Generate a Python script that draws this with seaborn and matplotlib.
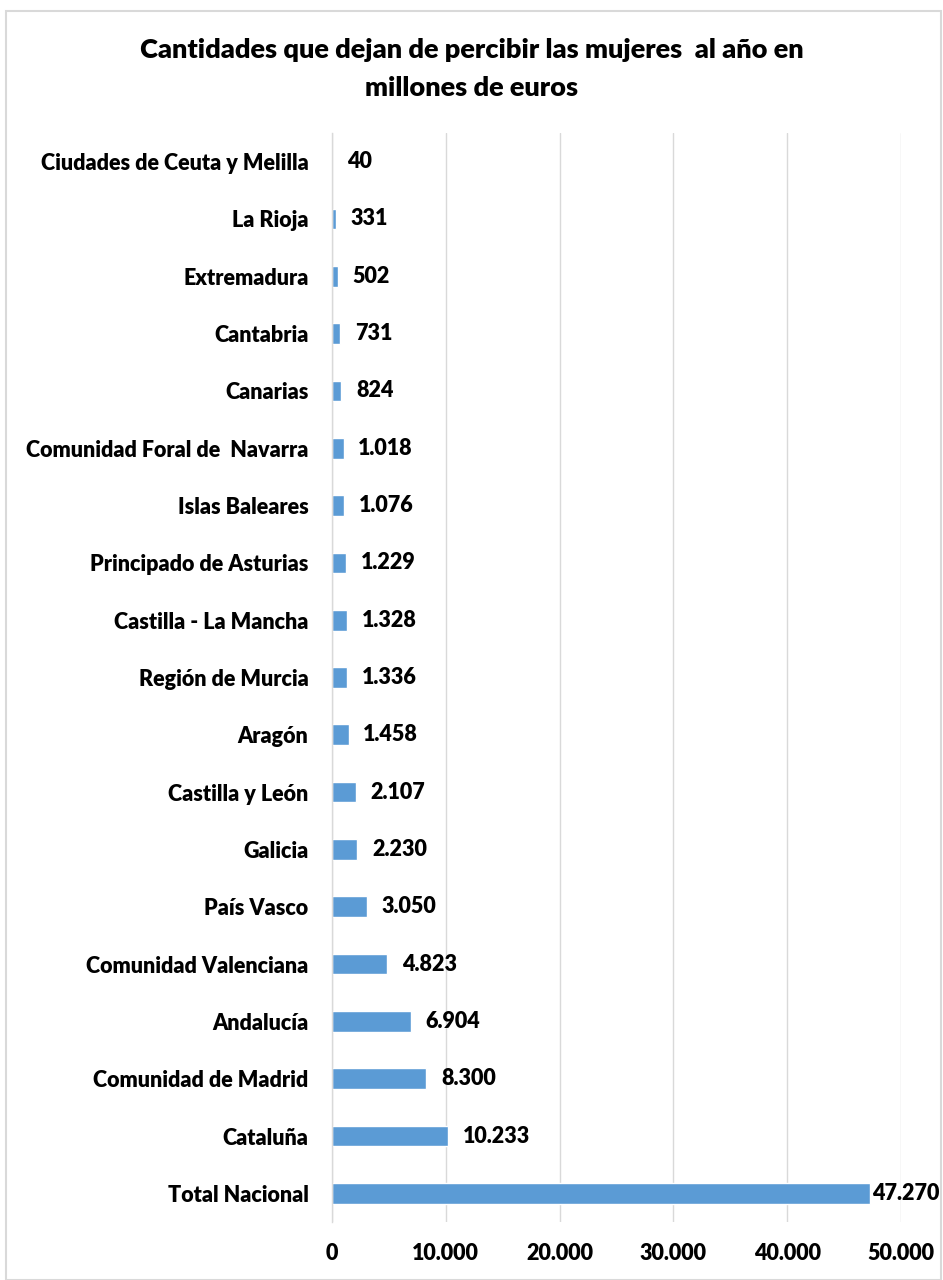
import matplotlib
matplotlib.use("Agg")
import matplotlib.pyplot as plt
import seaborn as sns
import pandas as pd
from matplotlib.patches import Rectangle
from matplotlib.ticker import FuncFormatter

regions = [
    "Ciudades de Ceuta y Melilla", "La Rioja", "Extremadura", "Cantabria", "Canarias",
    "Comunidad Foral de  Navarra", "Islas Baleares", "Principado de Asturias",
    "Castilla - La Mancha", "Región de Murcia", "Aragón", "Castilla y León", "Galicia",
    "País Vasco", "Comunidad Valenciana", "Andalucía", "Comunidad de Madrid", "Cataluña",
    "Total Nacional",
]
values = [40, 331, 502, 731, 824, 1018, 1076, 1229, 1328, 1336, 1458, 2107, 2230,
          3050, 4823, 6904, 8300, 10233, 47270]
ticks = [0, 10000, 20000, 30000, 40000, 50000]

sns.set_theme(style="white")
plt.rcParams['font.family'] = ['Lato', 'DejaVu Sans']

df = pd.DataFrame({"region": regions, "value": values})

def fmt(v):
    return f"{int(v):,}".replace(",", ".")

FS = 15.5
W = "heavy"

fig = plt.figure(figsize=(9.43, 12.8), dpi=100)
ax = fig.add_axes([332/943, 1 - 1222/1280, (901-332)/943, (1222-133)/1280])

sns.barplot(data=df, x="value", y="region", orient="h", color="#5B9BD5",
            saturation=1, width=0.36, ax=ax)

ax.set_xlim(0, 50000)
ax.set_xticks(ticks)
ax.xaxis.set_major_formatter(FuncFormatter(lambda v, p: fmt(v)))
ax.grid(axis="x", color="#D9D9D9", linewidth=1)
ax.set_axisbelow(True)
for s in ["top", "right", "bottom"]:
    ax.spines[s].set_visible(False)
ax.spines["left"].set_color("#D9D9D9")
ax.spines["left"].set_linewidth(1)
ax.set_xlabel("")
ax.set_ylabel("")
ax.tick_params(axis="x", length=0, pad=15, labelsize=FS)
ax.tick_params(axis="y", length=0, pad=17, labelsize=FS)
for lab in ax.get_xticklabels() + ax.get_yticklabels():
    lab.set_fontweight(W)
    lab.set_color("black")

for i, v in enumerate(values):
    off = 150 if v > 40000 else 1300
    ax.text(v + off, i, fmt(v), va="center", ha="left", fontsize=FS,
            fontweight=W, color="black", clip_on=False)

fig.text(0.5, 1 - 50/1280, "Cantidades que dejan de percibir las mujeres  al año en",
         ha="center", va="center", fontsize=19.5, fontweight=W, color="black")
fig.text(0.5, 1 - 88/1280, "millones de euros",
         ha="center", va="center", fontsize=19.5, fontweight=W, color="black")

fig.patches.append(Rectangle((6/943, 0), 1 - 8/943, 1 - 11/1280, transform=fig.transFigure,
                             fill=False, edgecolor="#D9D9D9", linewidth=1.5))

fig.savefig("out.png", dpi=100)
